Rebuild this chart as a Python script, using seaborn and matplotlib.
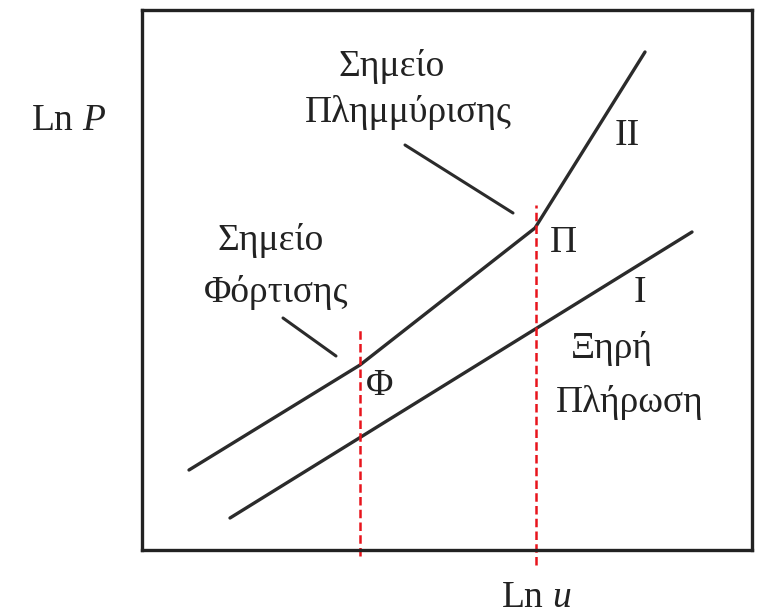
import matplotlib
matplotlib.use("Agg")
import matplotlib.pyplot as plt
import seaborn as sns
import pandas as pd

# Curve data (Ln u, Ln P) in plot units
dry_x = [88, 550]
dry_y = [32, 318]
wet_x = [47, 218, 393, 503]
wet_y = [80, 185, 322, 498]

# Loading (Φ) and flooding (Π) abscissae
load_x = 218
flood_x = 394

sns.set_theme(style="white")
plt.rcParams["font.family"] = ["Liberation Serif", "DejaVu Serif"]
plt.rcParams["mathtext.fontset"] = "custom"
plt.rcParams["mathtext.rm"] = "Liberation Serif"
plt.rcParams["mathtext.it"] = "Liberation Serif:italic"

W, H = 759, 616
fig = plt.figure(figsize=(W / 100, H / 100), dpi=100)
L, R, T, B = 142, 752, 10, 550
ax = fig.add_axes([L / W, 1 - B / H, (R - L) / W, (B - T) / H])
ax.set_xlim(0, R - L)
ax.set_ylim(0, B - T)

line_col = "#2b2b2b"
df_dry = pd.DataFrame({"x": dry_x, "y": dry_y})
df_wet = pd.DataFrame({"x": wet_x, "y": wet_y})
sns.lineplot(data=df_dry, x="x", y="y", ax=ax, color=line_col, lw=2.4,
             sort=False, estimator=None)
sns.lineplot(data=df_wet, x="x", y="y", ax=ax, color=line_col, lw=2.4,
             sort=False, estimator=None)

# Pointer strokes to the two points
ax.plot([141, 194], [232, 194], color=line_col, lw=2.2, solid_capstyle="round")
ax.plot([263, 371], [405, 337], color=line_col, lw=2.2, solid_capstyle="round")

# Vertical dashed markers
ax.plot([load_x, load_x], [-6, 220], color="#e8141c", lw=1.8,
        ls=(0, (3.4, 1.7)), clip_on=False)
ax.plot([flood_x, flood_x], [-15, 345], color="#e8141c", lw=1.8,
        ls=(0, (3.4, 1.7)), clip_on=False)

ax.set_xticks([])
ax.set_yticks([])
ax.set_xlabel("")
ax.set_ylabel("")
for s in ax.spines.values():
    s.set_visible(True)
    s.set_color("#222222")
    s.set_linewidth(2.4)

fs = 27
def px(x, y, s, **kw):
    ax.text(x - L, B - y, s, fontsize=fs, color="#222222", clip_on=False, **kw)

px(392, 66, "Σημείο", ha="center", va="center")
px(408, 112, "Πλημμύρισης", ha="center", va="center")
px(271, 240, "Σημείο", ha="center", va="center")
px(276, 292, "Φόρτισης", ha="center", va="center")
px(627, 136, "II", ha="center", va="center")
px(563, 243, "Π", ha="center", va="center")
px(640, 293, "I", ha="center", va="center")
px(612, 349, "Ξηρή", ha="center", va="center")
px(630, 403, "Πλήρωση", ha="center", va="center")
px(380, 386, "Φ", ha="center", va="center")
px(68, 121, "Ln $\\mathit{P}$", ha="center", va="center")
px(536, 598, "Ln $\\mathit{u}$", ha="center", va="center")

fig.savefig("out.png", dpi=100, facecolor="white")
